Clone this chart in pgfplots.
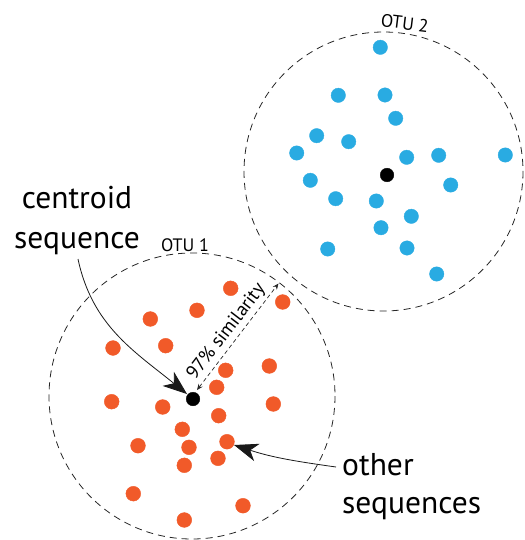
\documentclass[border=0pt]{standalone}
\usepackage{fontspec}
\setmainfont{PT Sans}
\usepackage{pgfplots}
\pgfplotsset{compat=1.18}
\usetikzlibrary{arrows.meta}
\definecolor{otuorange}{HTML}{F15A29}
\definecolor{otublue}{HTML}{29ABE2}
\begin{document}
\begin{tikzpicture}
\begin{axis}[
  width=524pt, height=540pt, scale only axis,
  xmin=0, xmax=524, ymin=0, ymax=540,
  y dir=reverse, hide axis, clip=false,
]
\path (axis cs:0,0) (axis cs:524,540);
% OTU circles
\draw[black!85, line width=0.8pt, dash pattern=on 7pt off 5pt] (axis cs:192,396) circle [radius=143];
\draw[black!85, line width=0.8pt, dash pattern=on 7pt off 5pt] (axis cs:383.5,171.5) circle [radius=139.5];
% OTU 2 sequences
\addplot[only marks, mark=*, mark size=7.2pt, color=otublue, mark options={draw=none, fill=otublue}] table {
x y
380.3 47.3
338.3 95.3
385.0 95.0
395.7 118.3
316.7 135.7
348.7 141.7
296.7 153.0
406.7 157.3
438.7 155.3
505.3 155.0
310.3 180.3
450.7 185.0
335.7 198.7
376.3 201.0
411.3 216.3
381.0 227.7
327.7 249.0
407.0 248.0
436.7 274.0
};
% OTU 1 sequences
\addplot[only marks, mark=*, mark size=7.4pt, color=otuorange, mark options={draw=none, fill=otuorange}] table {
x y
230.7 288.3
282.7 302.0
197.0 310.3
150.3 319.0
113.0 348.0
165.7 345.7
225.7 370.3
269.3 366.0
216.7 387.3
111.7 401.7
162.7 407.0
273.3 404.0
218.7 415.7
182.3 429.3
227.0 441.7
138.0 445.7
189.0 447.3
184.3 465.3
218.0 458.3
133.3 493.7
243.0 505.7
184.3 520.0
};
% centroids
\addplot[only marks, mark=*, mark size=6.8pt, color=black, mark options={draw=none, fill=black}] table {
x y
193 399
387 175
};
% labels
\node[anchor=base, inner sep=0, font=\fontsize{31.5}{36}\selectfont] at (axis cs:77,208) {centroid};
\node[anchor=base, inner sep=0, font=\fontsize{31.5}{36}\selectfont] at (axis cs:77,248) {sequence};
\node[anchor=base west, inner sep=0, font=\fontsize{31.5}{36}\selectfont] at (axis cs:342,475) {other};
\node[anchor=base west, inner sep=0, font=\fontsize{31.5}{36}\selectfont] at (axis cs:342,513) {sequences};
\node[anchor=base, inner sep=0, font=\fontsize{18}{21}\selectfont] at (axis cs:185,251.5) {OTU 1};
\node[anchor=base, inner sep=0, rotate=-7, font=\fontsize{18}{21}\selectfont] at (axis cs:404,29.5) {OTU 2};
% arrows
\draw[black!90, line width=0.8pt, -{Stealth[length=24pt, width=18pt, inset=7pt]}]
  (axis cs:78,259) to[out=-78, in=141] (axis cs:187,394);
\draw[black!90, line width=0.8pt, -{Stealth[length=24pt, width=18pt, inset=7pt]}]
  (axis cs:336,467) to[out=172, in=-18] (axis cs:234,445);
% similarity radius
\draw[black!85, line width=0.7pt, dash pattern=on 4pt off 3pt, {Stealth[length=6pt,width=5pt]}-{Stealth[length=6pt,width=5pt]}]
  (axis cs:197,390) -- (axis cs:278.5,283.5);
\node[rotate=52.6, inner sep=0, font=\fontsize{19}{22}\selectfont] at (axis cs:226.5,332) {97\% similarity};
\end{axis}
\end{tikzpicture}
\end{document}
